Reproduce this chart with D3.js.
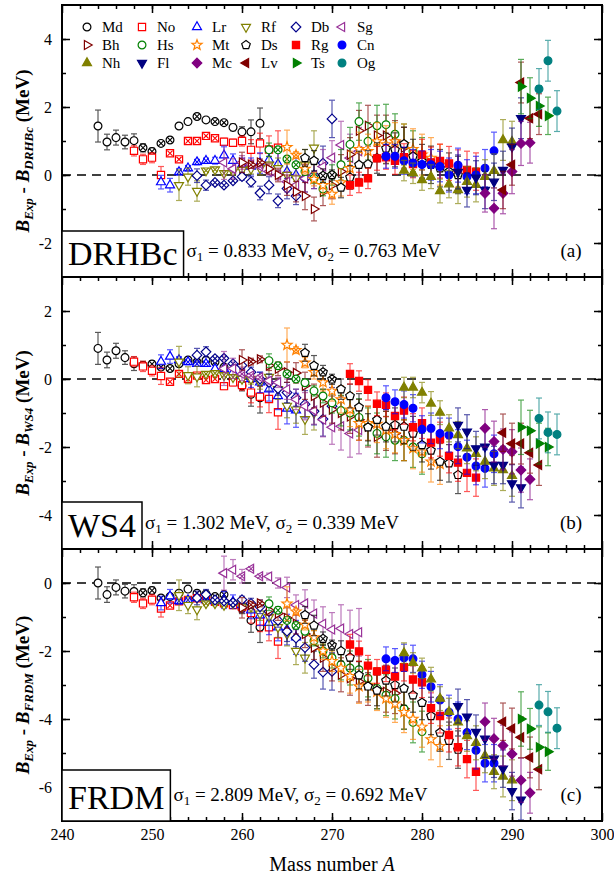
<!DOCTYPE html>
<html>
<head>
<meta charset="utf-8">
<script src="https://cdn.jsdelivr.net/npm/d3@7"></script>
<style>
body { margin: 0; background: #fff; }
svg text { font-family: "Liberation Serif", "Times New Roman", serif; }
</style>
</head>
<body>
<script>
// Each row: [A, DRHBc, WS4, FRDM, error, hatched]
const Md = [[244,1.44,0.90,0.00,0.47,0],[245,0.97,0.56,-0.34,0.23,0],[246,1.10,0.83,-0.13,0.22,0],[247,0.97,0.63,-0.24,0.20,0],
  [248,1.01,0.45,-0.25,0.20,0],[249,0.80,0.40,-0.29,0.12,1],[250,0.69,0.44,-0.22,0.10,1],[251,0.93,0.35,-0.44,0.05,1],
  [252,1.03,0.31,-0.40,0.05,1],[253,1.44,0.45,-0.30,0.05,0],[254,1.57,0.56,-0.18,0.05,0],[255,1.72,0.50,-0.30,0.05,1],
  [256,1.62,0.55,-0.32,0.05,0],[257,1.57,0.50,-0.40,0.05,1],[258,1.54,0.35,-0.34,0.05,1],[259,1.40,0.00,-0.60,0.10,0],
  [260,1.27,-0.20,-0.75,0.15,0],[261,1.27,-0.45,-1.10,0.35,0],[262,1.52,-0.55,-1.30,0.45,0]];
const No = [[248,0.71,0.51,-0.42,0.15,0],[249,0.46,0.37,-0.60,0.15,0],[250,0.51,0.24,-0.49,0.15,0],[251,0.00,0.09,-0.75,0.25,0],
  [252,0.64,-0.08,-0.66,0.05,1],[253,0.46,0.15,-0.54,0.05,1],[254,1.00,0.00,-0.50,0.05,1],[255,1.00,0.10,-0.45,0.05,1],
  [256,1.15,-0.03,-0.50,0.05,1],[257,1.08,0.00,-0.55,0.05,1],[258,0.98,-0.21,-0.60,0.10,0],[259,0.95,-0.10,-0.65,0.10,0],
  [260,1.00,-0.18,-0.70,0.15,0],[261,0.74,-0.40,-0.88,0.30,0],[262,0.93,-0.52,-1.13,0.30,0],[263,0.75,-0.59,-1.30,0.40,0],
  [264,0.80,-0.98,-1.72,0.50,0]];
const Lr = [[251,-0.21,0.51,-0.59,0.20,0],[252,-0.30,0.66,-0.39,0.20,0],[253,0.09,0.56,-0.53,0.10,1],[254,0.20,0.50,-0.50,0.08,1],
  [255,0.38,0.45,-0.44,0.08,1],[256,0.42,0.45,-0.50,0.08,1],[257,0.42,0.30,-0.53,0.10,0],[258,0.58,0.30,-0.50,0.25,0],
  [259,0.42,0.20,-0.55,0.20,0],[260,0.30,0.10,-0.65,0.20,0],[261,0.25,0.00,-0.80,0.25,0],[262,0.35,-0.10,-0.95,0.30,0],
  [263,0.45,-0.30,-1.17,0.35,0],[264,0.32,-0.50,-1.30,0.40,0],[265,0.10,-0.87,-1.37,0.45,0],[266,0.00,-0.92,-1.60,0.50,0]];
const Rf = [[253,-0.30,0.51,-0.36,0.45,0],[254,-0.05,0.11,-0.65,0.25,0],[255,-0.47,0.07,-0.78,0.30,0],[256,0.13,0.15,-0.60,0.05,1],
  [257,0.16,0.17,-0.60,0.05,1],[258,0.05,0.11,-0.65,0.05,1],[259,0.10,0.05,-0.60,0.05,1],[260,0.15,0.00,-0.70,0.10,0],
  [261,0.18,0.00,-0.70,0.15,0],[262,0.20,-0.10,-0.90,0.20,0],[263,0.30,0.06,-1.00,0.25,0],[264,0.20,-0.30,-1.30,0.30,0],
  [265,0.00,-0.79,-1.50,0.35,0],[266,-0.10,-0.90,-2.00,0.40,0],[267,0.30,-1.18,-2.20,0.45,0],[268,0.80,-1.00,-1.90,0.50,0]];
const Db = [[255,-0.02,0.70,-0.44,0.20,0],[256,-0.30,0.80,-0.34,0.15,0],[257,-0.22,0.60,-0.50,0.05,1],[258,-0.30,0.61,-0.53,0.05,1],
  [259,-0.17,0.45,-0.58,0.05,1],[260,-0.05,0.40,-0.49,0.10,0],[261,-0.20,0.20,-0.60,0.15,0],[262,-0.53,0.00,-0.70,0.20,0],
  [263,-0.30,-0.10,-0.84,0.25,0],[264,-0.76,-0.28,-1.10,0.20,0],[265,-0.40,-0.40,-1.42,0.30,0],[266,-0.62,-0.55,-1.62,0.25,0],
  [267,-0.10,-0.74,-1.90,0.40,0],[268,0.00,-0.95,-2.40,0.40,0],[269,0.35,-1.18,-2.62,0.50,0],[270,1.65,-0.80,-2.60,0.55,0]];
const Sg = [[258,0.37,0.31,0.29,0.50,0],[259,0.18,0.31,0.39,0.30,0],[260,0.37,0.15,0.20,0.20,1],[261,0.30,0.10,0.42,0.05,1],
  [262,0.25,0.05,0.20,0.05,1],[263,0.10,-0.05,0.19,0.10,0],[264,0.00,-0.10,0.00,0.15,0],[265,-0.20,-0.30,-0.13,0.30,0],
  [266,-0.30,-0.60,-0.65,0.30,0],[267,-0.10,-0.80,-0.60,0.40,0],[268,0.00,-0.93,-0.90,0.40,0],[269,0.25,-1.20,-1.20,0.50,0],
  [270,0.51,-1.42,-1.37,0.50,0],[271,0.88,-1.39,-1.34,0.70,0],[272,0.50,-1.60,-1.50,0.70,0],[273,0.70,-1.50,-1.45,0.70,0]];
const Bh = [[260,0.37,0.56,-0.73,0.30,0],[261,0.30,0.51,-0.64,0.10,1],[262,0.37,0.58,-0.60,0.10,1],[263,0.18,0.40,-0.80,0.15,0],
  [264,0.00,0.30,-0.90,0.20,0],[265,-0.30,0.20,-1.03,0.30,0],[266,-0.49,0.18,-1.20,0.30,0],[267,-0.62,-0.20,-1.50,0.40,0],
  [268,-1.00,-0.50,-1.90,0.35,0],[269,-0.50,-0.70,-2.20,0.40,0],[270,-0.30,-0.90,-2.48,0.40,0],[271,0.10,-1.00,-2.70,0.50,0],
  [272,0.60,-1.10,-2.80,0.50,0],[273,1.30,-1.20,-2.90,0.60,0],[274,1.45,-1.40,-3.00,0.60,0],[275,1.16,-1.70,-3.10,0.60,0],
  [276,1.16,-1.50,-3.20,0.60,0],[277,1.00,-1.60,-3.24,0.60,0],[278,0.80,-1.80,-3.70,0.60,0]];
const Hs = [[263,0.74,0.54,-0.61,0.20,0],[264,0.74,0.39,-0.80,0.05,1],[265,0.47,0.15,-1.10,0.05,1],[266,0.30,0.00,-1.25,0.05,1],
  [267,0.10,-0.11,-1.42,0.10,0],[268,-0.10,-0.35,-1.70,0.15,0],[269,-0.41,-0.50,-2.00,0.20,0],[270,0.00,-0.70,-2.20,0.30,0],
  [271,0.30,-0.93,-2.40,0.45,0],[272,0.90,-1.00,-2.50,0.50,0],[273,1.57,-1.13,-2.55,0.55,0],[274,0.99,-1.40,-2.80,0.55,0],
  [275,1.45,-1.60,-3.10,0.60,0],[276,1.48,-1.70,-3.30,0.60,0],[277,1.20,-1.80,-3.40,0.60,0],[278,0.90,-1.80,-3.70,0.60,0],
  [279,0.70,-2.00,-4.10,0.60,0],[280,0.50,-2.20,-4.37,0.60,0]];
const Mt = [[265,0.82,1.00,-0.61,0.50,0],[266,0.59,0.85,-0.84,0.10,1],[267,0.18,0.48,-1.23,0.15,0],[268,-0.12,0.20,-1.60,0.20,0],
  [269,-0.30,-0.10,-2.00,0.25,0],[270,-0.56,-0.35,-2.30,0.30,0],[271,-0.22,-0.60,-2.50,0.40,0],[272,0.20,-0.90,-2.74,0.50,0],
  [273,0.76,-1.30,-3.04,0.50,0],[274,0.70,-1.30,-3.00,0.50,0],[275,0.99,-1.32,-3.20,0.55,0],[276,0.90,-1.50,-3.40,0.55,0],
  [277,0.99,-1.62,-3.55,0.55,0],[278,0.90,-1.80,-3.80,0.60,0],[279,0.76,-2.04,-4.00,0.60,0],[280,0.60,-2.14,-4.23,0.60,0],
  [281,0.50,-2.43,-4.60,0.60,0],[282,0.30,-2.50,-4.80,0.60,0]];
const Ds = [[267,0.50,0.77,-0.94,0.25,0],[268,0.42,0.39,-1.25,0.30,0],[269,-0.02,0.20,-1.64,0.20,1],[270,0.00,-0.01,-1.83,0.15,1],
  [271,-0.37,-0.30,-2.00,0.30,0],[272,-0.07,-0.50,-2.19,0.35,0],[273,0.30,-0.83,-2.71,0.40,0],[274,0.32,-1.42,-3.04,0.40,0],
  [275,0.50,-1.20,-3.16,0.45,0],[276,0.78,-1.40,-2.87,0.45,0],[277,0.74,-1.35,-3.00,0.50,0],[278,0.91,-1.40,-3.10,0.50,0],
  [279,0.55,-1.60,-3.30,0.50,0],[280,0.40,-1.94,-3.52,0.50,0],[281,0.30,-2.10,-3.91,0.55,0],[282,0.20,-2.43,-4.40,0.55,0],
  [283,0.10,-2.48,-4.64,0.55,0],[284,0.00,-2.82,-4.90,0.55,0]];
const Rg = [[272,-0.30,0.15,-1.81,0.30,0],[273,-0.22,-0.06,-2.01,0.30,0],[274,-0.10,-0.32,-2.43,0.30,0],[275,0.49,-0.73,-2.60,0.35,0],
  [276,0.52,-0.76,-2.55,0.35,0],[277,0.42,-1.09,-2.75,0.40,0],[278,0.52,-0.93,-2.48,0.40,0],[279,0.32,-1.42,-2.84,0.40,0],
  [280,0.60,-1.30,-2.92,0.45,0],[281,0.37,-1.87,-3.68,0.45,0],[282,0.41,-1.77,-3.91,0.50,0],[283,0.34,-2.26,-4.47,0.50,0],
  [284,0.19,-2.46,-4.83,0.55,0],[285,0.15,-2.76,-5.18,0.55,0],[286,0.10,-2.90,-5.55,0.55,0]];
const Cn = [[276,0.55,-0.55,-2.23,0.35,0],[277,0.55,-0.67,-2.28,0.35,0],[278,0.42,-0.75,-2.20,0.40,0],[279,0.35,-0.86,-2.23,0.40,0],
  [280,0.31,-1.48,-2.70,0.40,0],[281,0.30,-1.45,-3.05,0.45,0],[282,0.25,-1.60,-3.44,0.45,0],[283,0.00,-1.65,-3.80,0.50,0],
  [284,0.29,-1.99,-4.00,0.50,0],[285,-0.05,-2.30,-4.40,0.50,0],[286,0.00,-2.56,-4.92,0.55,0],[287,0.20,-2.63,-5.30,0.55,0],
  [288,0.71,-2.20,-5.30,0.55,0]];
const Nh = [[278,0.13,-0.25,-2.06,0.30,0],[279,0.05,-0.25,-2.35,0.30,0],[280,-0.15,-0.40,-2.51,0.30,0],[281,-0.05,-0.72,-2.83,0.35,0],
  [282,-0.47,-0.99,-3.40,0.35,0],[283,-0.27,-1.45,-3.79,0.40,0],[284,-0.44,-1.65,-4.10,0.40,0],[285,-0.20,-2.04,-4.50,0.45,0],
  [286,-0.29,-2.20,-4.70,0.50,0],[287,-0.05,-2.43,-5.08,0.50,0],[288,0.12,-2.63,-5.55,0.50,0],[289,1.03,-2.68,-5.69,0.60,0],
  [290,0.98,-2.85,-5.80,0.60,0]];
const Fl = [[284,0.09,-1.35,-3.62,0.50,0],[285,-0.44,-1.55,-3.93,0.50,0],[286,-0.08,-2.04,-4.38,0.50,0],[287,-0.44,-1.99,-4.58,0.55,0],
  [288,-0.20,-2.53,-5.17,0.55,0],[289,0.15,-2.53,-5.46,0.55,0],[290,0.83,-3.07,-6.12,0.55,0],[291,1.67,-3.19,-6.37,0.60,0]];
const Mc = [[287,-0.54,-1.45,-4.08,0.55,0],[288,-0.98,-1.84,-4.58,0.60,0],[289,-0.54,-2.07,-4.78,0.60,0],[290,0.10,-2.14,-5.03,0.65,0],
  [291,0.93,-2.68,-5.80,0.65,0],[292,0.95,-2.95,-6.17,0.60,0]];
const Lv = [[289,-0.44,-1.58,-4.08,0.55,0],[290,0.30,-1.90,-4.28,0.60,0],[291,2.72,-1.90,-4.54,0.60,0],[292,1.67,-2.17,-5.13,0.60,0],
  [293,1.79,-2.53,-5.48,0.60,0]];
const Ts = [[291,2.60,-1.42,-4.00,0.80,0],[292,2.26,-1.52,-4.29,0.60,0],[293,2.03,-1.90,-4.83,0.60,0],[294,1.74,-2.00,-4.96,0.55,0]];
const Og = [[293,2.53,-1.16,-3.59,0.60,0],[294,3.36,-1.57,-3.79,0.60,0],[295,1.88,-1.63,-4.27,0.60,0]];

const elements = ["Md","No","Lr","Rf","Db","Sg","Bh","Hs","Mt","Ds","Rg","Cn","Nh","Fl","Mc","Lv","Ts","Og"];
const series = [Md, No, Lr, Rf, Db, Sg, Bh, Hs, Mt, Ds, Rg, Cn, Nh, Fl, Mc, Lv, Ts, Og];
const models = ["DRHBc", "WS4", "FRDM"];
const sigma1 = ["0.833", "1.302", "2.809"];
const sigma2 = ["0.763", "0.339", "0.692"];
const tags = ["(a)", "(b)", "(c)"];
const xTicks = [240, 250, 260, 270, 280, 290, 300];

// styles
const colors = ["#000000","#ff0000","#0000ff","#808000","#00008b","#993399","#800000","#008000","#ff8000",
  "#000000","#ff0000","#0000ff","#808000","#000080","#800080","#800000","#008000","#008080"];
const shapes = ["circle","square","triUp","triDown","diamond","triLeft","triRight","circle","star",
  "pentagon","square","circle","triUp","triDown","diamond","triLeft","triRight","circle"];
const filled = [0,0,0,0,0,0,0,0,0,0,1,1,1,1,1,1,1,1];
const serif = "Liberation Serif, Times New Roman, serif";

const width = 614, height = 879;
const left = 62, right = 602;
const panelTop = [5, 277, 549];
const panelH = 272;
const yDomains = [[-3, 5], [-5, 3], [-7, 1]];
const boxTop = [231, 502, 770];

const svg = d3.select("body").append("svg")
    .attr("width", width)
    .attr("height", height)
    .attr("font-family", serif);

const x = d3.scaleLinear().domain([240, 300]).range([left, right]);

function markerPath(shape) {
    const poly = pts => "M" + pts.map(q => q[0].toFixed(2) + "," + q[1].toFixed(2)).join("L") + "Z";
    const ring = (n, R, a0) => d3.range(n).map(k => [R * Math.cos(a0 + 2 * Math.PI * k / n), R * Math.sin(a0 + 2 * Math.PI * k / n)]);
    switch (shape) {
        case "circle": return "M3.9,0A3.9,3.9 0 1,1 -3.9,0A3.9,3.9 0 1,1 3.9,0Z";
        case "square": return poly([[-3.6, -3.6], [3.6, -3.6], [3.6, 3.6], [-3.6, 3.6]]);
        case "triUp": return poly(ring(3, 5.2, -Math.PI / 2));
        case "triDown": return poly(ring(3, 5.2, Math.PI / 2));
        case "triLeft": return poly(ring(3, 5.2, Math.PI));
        case "triRight": return poly(ring(3, 5.2, 0));
        case "diamond": return poly(ring(4, 4.8, -Math.PI / 2));
        case "pentagon": return poly(ring(5, 4.5, -Math.PI / 2));
        case "star": return poly(d3.range(10).map(k => {
            const R = k % 2 ? 2.2 : 5.3, a = -Math.PI / 2 + Math.PI * k / 5;
            return [R * Math.cos(a), R * Math.sin(a)];
        }));
    }
}

function drawMarker(g, i, hatched) {
    g.append("path")
        .attr("d", markerPath(shapes[i]))
        .attr("fill", filled[i] ? colors[i] : "white")
        .attr("stroke", colors[i])
        .attr("stroke-width", 1.2);
    if (hatched) {
        g.append("path")
            .attr("d", "M-2.6,-2.6L2.6,2.6M-2.6,2.6L2.6,-2.6")
            .attr("stroke", colors[i])
            .attr("stroke-width", 1.1);
    }
}

//Panels
models.forEach((model, p) => {
    const top = panelTop[p], bottom = top + panelH;
    const y = d3.scaleLinear().domain(yDomains[p]).range([bottom, top]);
    const g = svg.append("g");

    svg.append("clipPath").attr("id", "clip" + p)
        .append("rect").attr("x", left).attr("y", top).attr("width", right - left).attr("height", panelH);

    //zero line
    g.append("line")
        .attr("x1", left).attr("x2", right)
        .attr("y1", y(0)).attr("y2", y(0))
        .attr("stroke", "black").attr("stroke-width", 1.5)
        .attr("stroke-dasharray", "9,6");

    const plot = g.append("g").attr("clip-path", `url(#clip${p})`);

    series.forEach((rows, i) => {
        const eg = plot.append("g");
        const bars = eg.selectAll("g.bar").data(rows).join("g")
            .attr("class", "bar")
            .attr("transform", d => `translate(${x(d[0])},0)`)
            .attr("stroke", colors[i])
            .attr("stroke-width", 1.2)
            .attr("opacity", 0.65);
        bars.append("line")
            .attr("y1", d => y(d[p + 1] - d[4])).attr("y2", d => y(d[p + 1] + d[4]));
        bars.append("line").attr("x1", -3).attr("x2", 3)
            .attr("y1", d => y(d[p + 1] - d[4])).attr("y2", d => y(d[p + 1] - d[4]));
        bars.append("line").attr("x1", -3).attr("x2", 3)
            .attr("y1", d => y(d[p + 1] + d[4])).attr("y2", d => y(d[p + 1] + d[4]));

        eg.selectAll("g.mk").data(rows).join("g")
            .attr("class", "mk")
            .attr("transform", d => `translate(${x(d[0])},${y(d[p + 1])})`)
            .each(function(d) { drawMarker(d3.select(this), i, d[5]); });
    });

    //axes
    const lo = yDomains[p][0], hi = yDomains[p][1];
    const yMajor = d3.range(Math.ceil(lo / 2) * 2, hi, 2).filter(v => v > lo);
    const yMinor = d3.range(lo + 1, hi);
    const xMinor = d3.range(242, 300, 2);
    const clean = s => {
        s.select(".domain").remove();
        s.selectAll("line").attr("stroke-width", 1.5);
        s.attr("font-family", serif).attr("font-size", 16);
    };

    g.append("g").attr("transform", `translate(${left},0)`)
        .call(d3.axisLeft(y).tickValues(yMinor).tickSize(-4).tickFormat("")).call(clean);
    g.append("g").attr("transform", `translate(${left},0)`)
        .call(d3.axisLeft(y).tickValues(yMajor).tickSize(-8).tickPadding(10).tickFormat(d => String(d)))
        .call(clean);
    g.append("g").attr("transform", `translate(${right},0)`)
        .call(d3.axisRight(y).tickValues(yMinor).tickSize(-4).tickFormat("")).call(clean);
    g.append("g").attr("transform", `translate(${right},0)`)
        .call(d3.axisRight(y).tickValues(yMajor).tickSize(-8).tickFormat("")).call(clean);

    g.append("g").attr("transform", `translate(0,${top})`)
        .call(d3.axisTop(x).tickValues(xMinor).tickSize(-4).tickFormat("")).call(clean);
    g.append("g").attr("transform", `translate(0,${top})`)
        .call(d3.axisTop(x).tickValues(xTicks).tickSize(-8).tickFormat("")).call(clean);
    g.append("g").attr("transform", `translate(0,${bottom})`)
        .call(d3.axisBottom(x).tickValues(xMinor).tickSize(-4).tickFormat("")).call(clean);
    g.append("g").attr("transform", `translate(0,${bottom})`)
        .call(d3.axisBottom(x).tickValues(xTicks).tickSize(-8).tickPadding(8)
            .tickFormat(p === 2 ? (d => String(d)) : ""))
        .call(clean);

    //frame
    g.append("rect")
        .attr("x", left).attr("y", top)
        .attr("width", right - left).attr("height", panelH)
        .attr("fill", "none").attr("stroke", "black").attr("stroke-width", 2);

    //model box
    const box = g.append("rect")
        .attr("x", left).attr("y", boxTop[p])
        .attr("height", bottom - boxTop[p])
        .attr("fill", "white").attr("stroke", "black").attr("stroke-width", 1.5);
    const mt = g.append("text")
        .attr("x", 68).attr("y", bottom - 12)
        .attr("font-size", 34)
        .text(model);
    const bw = mt.node().getComputedTextLength() + 12;
    box.attr("width", bw);

    //sigma text
    const st = g.append("text")
        .attr("x", left + bw + 3).attr("y", bottom - 20)
        .attr("font-size", 19);
    st.append("tspan").text("σ");
    st.append("tspan").attr("dy", 4).attr("font-size", 13).text("1");
    st.append("tspan").attr("dy", -4).text(` = ${sigma1[p]} MeV, σ`);
    st.append("tspan").attr("dy", 4).attr("font-size", 13).text("2");
    st.append("tspan").attr("dy", -4).text(` = ${sigma2[p]} MeV`);

    //panel tag
    g.append("text")
        .attr("x", 571).attr("y", bottom - 20)
        .attr("text-anchor", "middle")
        .attr("font-size", 19)
        .text(tags[p]);

    //y axis title
    const yt = g.append("text")
        .attr("transform", `translate(29,${(top + bottom) / 2 + 10}) rotate(-90)`)
        .attr("text-anchor", "middle")
        .attr("font-size", 19)
        .attr("font-weight", "bold");
    yt.append("tspan").attr("font-style", "italic").text("B");
    yt.append("tspan").attr("font-style", "italic").attr("font-size", 13).attr("dy", 4).text("Exp");
    yt.append("tspan").attr("dy", -4).text(" - ");
    yt.append("tspan").attr("font-style", "italic").text("B");
    yt.append("tspan").attr("font-style", "italic").attr("font-size", 13).attr("dy", 4).text(model);
    yt.append("tspan").attr("dy", -4).text(" (MeV)");
});

//Legend
const legendX = [87, 142, 197, 246, 296, 342];
const legendY = [27, 45, 63];
elements.forEach((name, i) => {
    const lx = legendX[i % 6], ly = legendY[Math.floor(i / 6)];
    const lg = svg.append("g").attr("transform", `translate(${lx},${ly})`);
    drawMarker(lg, i, 0);
    lg.append("text").attr("x", 15).attr("y", 5).attr("font-size", 15).text(name);
});

//X axis title
const xt = svg.append("text")
    .attr("x", (left + right) / 2).attr("y", 871)
    .attr("text-anchor", "middle")
    .attr("font-size", 20);
xt.append("tspan").text("Mass number ");
xt.append("tspan").attr("font-style", "italic").text("A");
</script>
</body>
</html>
